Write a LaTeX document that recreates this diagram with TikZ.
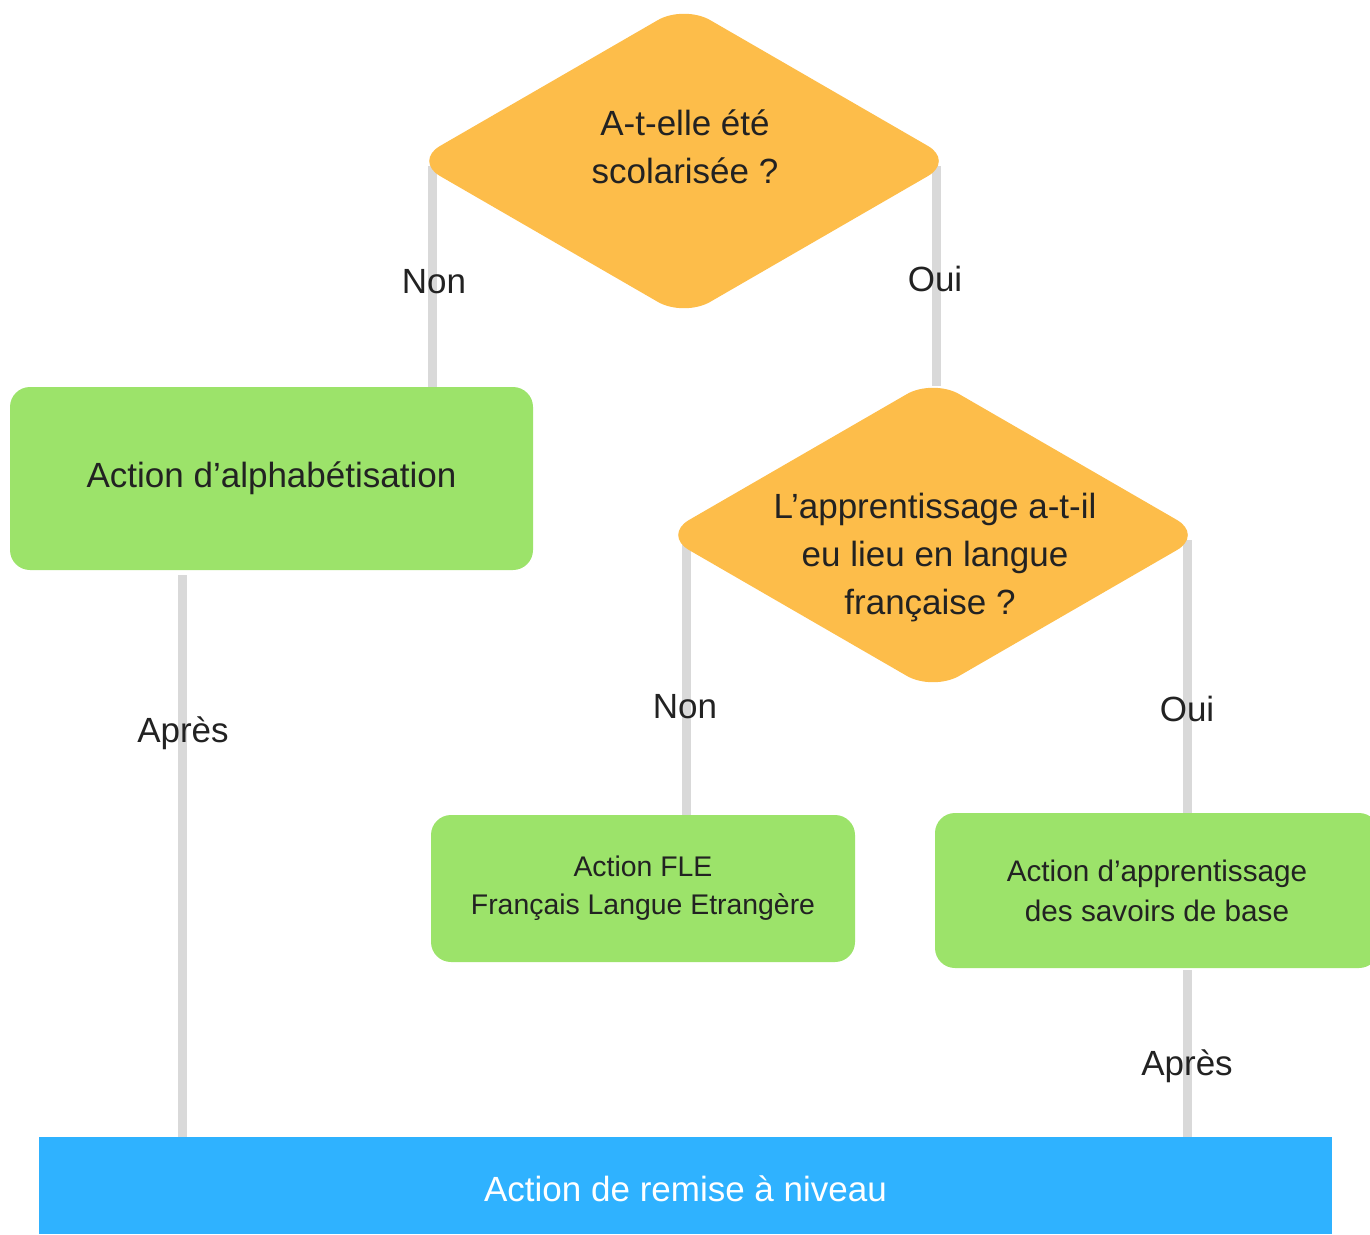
\documentclass[tikz,border=0pt]{standalone}
\usepackage{fontspec}
\setmainfont{Liberation Sans}
\usetikzlibrary{backgrounds}
\definecolor{qorange}{HTML}{FDBD4A}
\definecolor{agreen}{HTML}{9CE36A}
\definecolor{barblue}{HTML}{2FB2FF}
\definecolor{linegray}{HTML}{D9D9D9}
\definecolor{txtcol}{HTML}{222222}
\begin{document}
\begin{tikzpicture}[x=1pt,y=-1pt,
  conn/.style={draw=linegray, line width=9pt},
  qshape/.style={fill=qorange, rounded corners=30pt},
  txt/.style={text=txtcol, align=center, inner sep=0pt, font=\fontsize{35}{48}\selectfont},
  abox/.style={txt, fill=agreen, rounded corners=20pt},
  smalltxt/.style={font=\fontsize{28.4}{38}\selectfont},
  midtxt/.style={font=\fontsize{29.7}{40}\selectfont}]
\useasboundingbox (0,0) rectangle (1370,1234);
\clip (0,0) rectangle (1370,1234);

% decision diamonds
\path[qshape] (549,83) -- (684,5) -- (954,161) -- (684,317) -- (414,161) -- cycle;
\node[txt] (q1) at (685,147) {A-t-elle été\\scolarisée ?};
\path[qshape] (798,457) -- (933,379) -- (1203,535) -- (933,691) -- (663,535) -- cycle;
\node[txt] (q2) at (935,558) {L’apprentissage a-t-il\\eu lieu en langue\\française ?\kern10pt};

% action boxes
\node[abox, minimum width=523pt, minimum height=183pt] (b1) at (271.5,478.5) {Action d’alphabétisation};
\node[abox, smalltxt, minimum width=424pt, minimum height=147pt] (b2) at (643,888.5) {Action FLE\\Français Langue Etrangère};
\node[abox, midtxt, minimum width=444pt, minimum height=155pt] (b3) at (1157,890.5) {Action d’apprentissage\\des savoirs de base};
\node[fill=barblue, minimum width=1293pt, minimum height=97pt, inner sep=0pt, text=white, font=\fontsize{35}{48}\selectfont] (bar) at (685.5,1185.5) {\raisebox{-3.5pt}[\height][\depth]{Action de remise à niveau}};

% connector end points
\coordinate (q1W) at (432,166);
\coordinate (q1E) at (936,166);
\coordinate (q2N) at (936,386);
\coordinate (q2W) at (686,540);
\coordinate (q2E) at (1187,540);
\coordinate (b1S) at (182,575);
\coordinate (b3S) at (1187,970);

\begin{pgfonlayer}{background}
\draw[conn] (q1W) -- (q1W |- b1.north);
\draw[conn] (q1E) -- (q2N);
\draw[conn] (q2W) -- (q2W |- b2.north);
\draw[conn] (q2E) -- (q2E |- b3.north);
\draw[conn] (b1S) -- (b1S |- bar.north);
\draw[conn] (b3S) -- (b3S |- bar.north);
\end{pgfonlayer}

% connector labels
\node[txt] (l1) at (434,282) {Non};
\node[txt] (l2) at (935,279) {Oui};
\node[txt] (l3) at (685,707) {Non};
\node[txt] (l4) at (1187,709) {Oui};
\node[txt] (l5) at (183,733) {Après};
\node[txt] (l6) at (1187,1066) {Après};
\end{tikzpicture}
\end{document}
